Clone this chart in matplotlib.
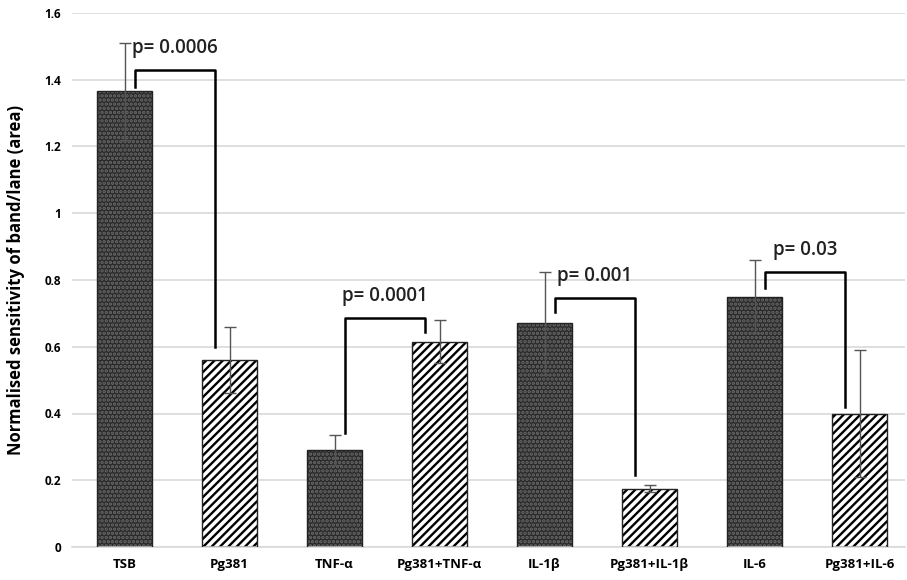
import matplotlib.pyplot as plt
import numpy as np

plt.rcParams['font.family'] = ['Open Sans', 'DejaVu Sans']
plt.rcParams['hatch.linewidth'] = 1.7

# dati
categories = ["TSB", "Pg381", "TNF-α", "Pg381+TNF-α", "IL-1β", "Pg381+IL-1β", "IL-6", "Pg381+IL-6"]
values = [1.365, 0.56, 0.29, 0.615, 0.67, 0.175, 0.75, 0.40]
errors = [0.145, 0.10, 0.045, 0.065, 0.155, 0.01, 0.11, 0.19]
striped = [False, True, False, True, False, True, False, True]

# confronti: (indice sinistro, indice destro, y inizio sx, y top, y fine dx, testo)
comparisons = [
    (0, 1, 1.378, 1.43, 0.60, "p= 0.0006"),
    (2, 3, 0.342, 0.687, 0.645, "p= 0.0001"),
    (4, 5, 0.705, 0.747, 0.216, "p= 0.001"),
    (6, 7, 0.777, 0.825, 0.42, "p= 0.03"),
]

fig = plt.figure(figsize=(9.07, 5.8), dpi=100)
ax = fig.add_axes([72 / 907, 33 / 580, (905 - 72) / 907, 534 / 580])

x = np.arange(len(categories))
w = 0.52
for i in range(len(categories)):
    if striped[i]:
        ax.bar(x[i], values[i], w, color="white", edgecolor="black", hatch="////", linewidth=0, zorder=2)
    else:
        ax.bar(x[i], values[i], w, color="#2a2a2a", edgecolor="#6a6a6a", hatch="....", linewidth=0, zorder=2)
    ax.bar(x[i], values[i], w, fill=False, edgecolor="#222222", linewidth=1.0, zorder=3)

ax.errorbar(x, values, yerr=errors, fmt="none", ecolor="#555555", elinewidth=1.0,
            capsize=4, capthick=1.0, zorder=4)

for l, r, y0, ytop, y1, txt in comparisons:
    xl = x[l] + 0.1
    xr = x[r] - 0.14
    ax.plot([xl, xl, xr, xr], [y0, ytop, ytop, y1], color="black", linewidth=1.8, zorder=5)
    ax.text((xl + xr) / 2, ytop + 0.035, txt, ha="center", va="bottom", fontsize=13.5,
            fontweight="semibold", color="#222222")

ax.set_xlim(-0.5, 7 + (905 - 859.5) / 105)
ax.set_ylim(0, 1.6)
ax.set_yticks(np.arange(0, 1.61, 0.2))
ax.set_yticklabels(["0", "0.2", "0.4", "0.6", "0.8", "1", "1.2", "1.4", "1.6"])
ax.set_xticks(x)
ax.set_xticklabels(categories)
for lab in ax.get_xticklabels():
    lab.set_fontweight("bold")
    lab.set_fontsize(9.5)
for lab in ax.get_yticklabels():
    lab.set_fontweight("bold")
    lab.set_fontsize(8.5)
ax.tick_params(length=0, pad=8)
ax.yaxis.grid(True, color="#d9d9d9", linewidth=1.2, zorder=0)
ax.set_axisbelow(True)
for s in ["top", "right", "left"]:
    ax.spines[s].set_visible(False)
ax.spines["bottom"].set_color("#d9d9d9")
ax.spines["bottom"].set_linewidth(1.2)

ax.set_ylabel("Normalised sensitivity of band/lane (area)", fontsize=12, fontweight="bold", labelpad=14)

plt.savefig("out.png", dpi=100)
plt.close()
